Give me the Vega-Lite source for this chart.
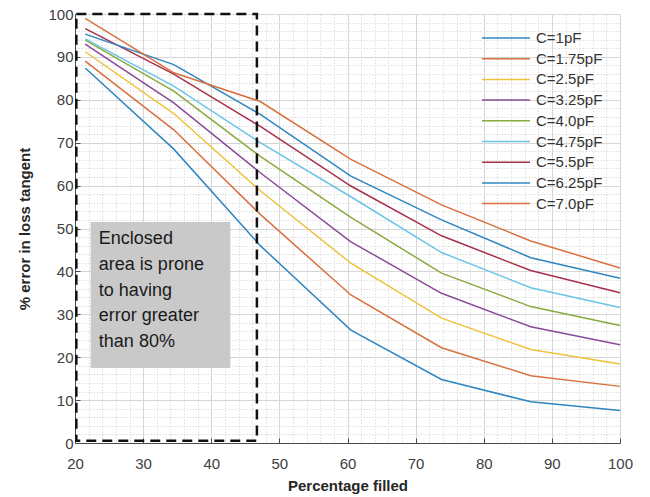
{
  "$schema": "https://vega.github.io/schema/vega-lite/v6.json",
  "width": 545,
  "height": 429,
  "autosize": {"type": "none"},
  "padding": {"left": 75, "top": 14, "right": 30, "bottom": 54},
  "background": "white",
  "config": {
    "view": {"stroke": "#cfcfcf", "strokeWidth": 1},
    "font": "Liberation Sans",
    "axis": {
      "domainColor": "#4a4a4a",
      "domainWidth": 1,
      "labelFont": "Liberation Sans",
      "labelFontSize": 15,
      "labelColor": "#404040",
      "titleFont": "Liberation Sans",
      "titleFontSize": 15,
      "titleFontWeight": "bold",
      "titleColor": "#262626",
      "labelOverlap": false,
      "labelFlush": false,
      "labelBound": false,
      "format": "d",
      "labelExpr": "datum.value % 10 === 0 ? datum.label : ''",
      "tickColor": "#4a4a4a",
      "tickSize": -5,
      "tickOpacity": {"condition": {"test": "datum.value % 10 === 0", "value": 1}, "value": 0},
      "gridColor": {"condition": {"test": "datum.value % 10 === 0", "value": "#d6d6d6"}, "value": "#dedede"},
      "gridDash": {"condition": {"test": "datum.value % 10 === 0", "value": []}, "value": [1.5, 1.5]},
      "gridWidth": 1
    }
  },
  "datasets": {
    "curves": [
      {"c": "C=1pF", "pct": 21.5, "err": 87.4},
      {"c": "C=1pF", "pct": 34.5, "err": 68.5},
      {"c": "C=1pF", "pct": 47.2, "err": 46.0},
      {"c": "C=1pF", "pct": 60.5, "err": 26.3},
      {"c": "C=1pF", "pct": 73.8, "err": 14.8},
      {"c": "C=1pF", "pct": 86.9, "err": 9.6},
      {"c": "C=1pF", "pct": 100, "err": 7.6},
      {"c": "C=1.75pF", "pct": 21.5, "err": 89.0},
      {"c": "C=1.75pF", "pct": 34.5, "err": 73.0},
      {"c": "C=1.75pF", "pct": 47.2, "err": 53.3},
      {"c": "C=1.75pF", "pct": 60.5, "err": 34.5},
      {"c": "C=1.75pF", "pct": 73.8, "err": 22.2},
      {"c": "C=1.75pF", "pct": 86.9, "err": 15.7},
      {"c": "C=1.75pF", "pct": 100, "err": 13.2},
      {"c": "C=2.5pF", "pct": 21.5, "err": 91.2},
      {"c": "C=2.5pF", "pct": 34.5, "err": 76.8},
      {"c": "C=2.5pF", "pct": 47.2, "err": 58.8},
      {"c": "C=2.5pF", "pct": 60.5, "err": 41.9},
      {"c": "C=2.5pF", "pct": 73.8, "err": 29.1},
      {"c": "C=2.5pF", "pct": 86.9, "err": 21.8},
      {"c": "C=2.5pF", "pct": 100, "err": 18.4},
      {"c": "C=3.25pF", "pct": 21.5, "err": 93.0},
      {"c": "C=3.25pF", "pct": 34.5, "err": 79.3},
      {"c": "C=3.25pF", "pct": 47.2, "err": 63.0},
      {"c": "C=3.25pF", "pct": 60.5, "err": 46.9},
      {"c": "C=3.25pF", "pct": 73.8, "err": 34.9},
      {"c": "C=3.25pF", "pct": 86.9, "err": 27.1},
      {"c": "C=3.25pF", "pct": 100, "err": 22.9},
      {"c": "C=4.0pF", "pct": 21.5, "err": 93.9},
      {"c": "C=4.0pF", "pct": 34.5, "err": 82.0},
      {"c": "C=4.0pF", "pct": 47.2, "err": 66.8},
      {"c": "C=4.0pF", "pct": 60.5, "err": 52.6},
      {"c": "C=4.0pF", "pct": 73.8, "err": 39.6},
      {"c": "C=4.0pF", "pct": 86.9, "err": 31.8},
      {"c": "C=4.0pF", "pct": 100, "err": 27.4},
      {"c": "C=4.75pF", "pct": 21.5, "err": 94.2},
      {"c": "C=4.75pF", "pct": 34.5, "err": 83.2},
      {"c": "C=4.75pF", "pct": 47.2, "err": 70.0},
      {"c": "C=4.75pF", "pct": 60.5, "err": 57.4},
      {"c": "C=4.75pF", "pct": 73.8, "err": 44.4},
      {"c": "C=4.75pF", "pct": 86.9, "err": 36.2},
      {"c": "C=4.75pF", "pct": 100, "err": 31.6},
      {"c": "C=5.5pF", "pct": 21.5, "err": 96.6},
      {"c": "C=5.5pF", "pct": 34.5, "err": 86.0},
      {"c": "C=5.5pF", "pct": 47.2, "err": 73.8},
      {"c": "C=5.5pF", "pct": 60.5, "err": 59.9},
      {"c": "C=5.5pF", "pct": 73.8, "err": 48.3},
      {"c": "C=5.5pF", "pct": 86.9, "err": 40.2},
      {"c": "C=5.5pF", "pct": 100, "err": 35.0},
      {"c": "C=6.25pF", "pct": 21.5, "err": 95.3},
      {"c": "C=6.25pF", "pct": 34.5, "err": 88.2},
      {"c": "C=6.25pF", "pct": 47.2, "err": 76.6},
      {"c": "C=6.25pF", "pct": 60.5, "err": 62.2},
      {"c": "C=6.25pF", "pct": 73.8, "err": 52.0},
      {"c": "C=6.25pF", "pct": 86.9, "err": 43.2},
      {"c": "C=6.25pF", "pct": 100, "err": 38.4},
      {"c": "C=7.0pF", "pct": 21.5, "err": 99.0},
      {"c": "C=7.0pF", "pct": 34.5, "err": 86.3},
      {"c": "C=7.0pF", "pct": 47.2, "err": 79.6},
      {"c": "C=7.0pF", "pct": 60.5, "err": 66.1},
      {"c": "C=7.0pF", "pct": 73.8, "err": 55.5},
      {"c": "C=7.0pF", "pct": 86.9, "err": 47.1},
      {"c": "C=7.0pF", "pct": 100, "err": 40.8}
    ],
    "zone": [{"x1": 20.2, "x2": 46.7, "y1": 0.5, "y2": 100}],
    "note": [{"x1": 22.3, "x2": 42.8, "y1": 17.5, "y2": 51.5, "tx": 23.5, "ty": 49.6, "label": "Enclosed\narea is prone\nto having\nerror greater\nthan 80%"}]
  },
  "layer": [
    {
      "data": {"name": "note"},
      "mark": {"type": "rect", "fill": "#c9c9c9", "stroke": null},
      "encoding": {
        "x": {"field": "x1", "type": "quantitative", "scale": {"domain": [20, 100], "nice": false, "zero": false},
              "axis": {"values": [20,22,24,26,28,30,32,34,36,38,40,42,44,46,48,50,52,54,56,58,60,62,64,66,68,70,72,74,76,78,80,82,84,86,88,90,92,94,96,98,100], "tickCount": 200, "grid": true, "title": "Percentage filled", "labelPadding": 18, "titlePadding": 7, "labelOverlap": false, "labelBound": false, "labelFlush": false}},
        "x2": {"field": "x2"},
        "y": {"field": "y1", "type": "quantitative", "scale": {"domain": [0, 100], "nice": false, "zero": false},
              "axis": {"values": [0,2,4,6,8,10,12,14,16,18,20,22,24,26,28,30,32,34,36,38,40,42,44,46,48,50,52,54,56,58,60,62,64,66,68,70,72,74,76,78,80,82,84,86,88,90,92,94,96,98,100], "tickCount": 200, "grid": true, "title": "% error in loss tangent", "labelPadding": 7, "titlePadding": 15, "labelOverlap": false, "labelBound": false, "labelFlush": false}},
        "y2": {"field": "y2"}
      }
    },
    {
      "data": {"name": "curves"},
      "mark": {"type": "line", "strokeWidth": 1.5},
      "encoding": {
        "x": {"field": "pct", "type": "quantitative", "title": "Percentage filled"},
        "y": {"field": "err", "type": "quantitative", "title": "% error in loss tangent"},
        "color": {
          "field": "c", "type": "nominal",
          "scale": {
            "domain": ["C=1pF","C=1.75pF","C=2.5pF","C=3.25pF","C=4.0pF","C=4.75pF","C=5.5pF","C=6.25pF","C=7.0pF"],
            "range": ["#2f86c0","#d8703f","#eec23c","#8a4a98","#8aaa40","#6cc4e8","#a8314a","#2f86c0","#d8703f"]
          },
          "sort": ["C=1pF","C=1.75pF","C=2.5pF","C=3.25pF","C=4.0pF","C=4.75pF","C=5.5pF","C=6.25pF","C=7.0pF"],
          "legend": {
            "orient": "none", "legendX": 406, "legendY": 15, "title": null,
            "symbolType": "stroke", "symbolSize": 2304, "symbolStrokeWidth": 1.5,
            "labelFontSize": 15, "labelFont": "Liberation Sans", "labelColor": "#333333",
            "clipHeight": 18, "rowPadding": 2.7, "labelOffset": 5
          }
        },
        "order": {"field": "pct", "type": "quantitative"}
      }
    },
    {
      "data": {"name": "zone"},
      "mark": {"type": "rect", "fill": null, "fillOpacity": 0, "stroke": "#111111", "strokeWidth": 2.5, "strokeDash": [10, 6]},
      "encoding": {
        "x": {"field": "x1", "type": "quantitative", "title": "Percentage filled"},
        "x2": {"field": "x2"},
        "y": {"field": "y1", "type": "quantitative", "title": "% error in loss tangent"},
        "y2": {"field": "y2"}
      }
    },
    {
      "data": {"name": "note"},
      "mark": {"type": "text", "align": "left", "baseline": "top", "fontSize": 18, "lineHeight": 25.7, "lineBreak": "\n", "color": "#1a1a1a", "font": "Liberation Sans"},
      "encoding": {
        "x": {"field": "tx", "type": "quantitative", "title": "Percentage filled"},
        "y": {"field": "ty", "type": "quantitative", "title": "% error in loss tangent"},
        "text": {"field": "label"}
      }
    }
  ]
}
